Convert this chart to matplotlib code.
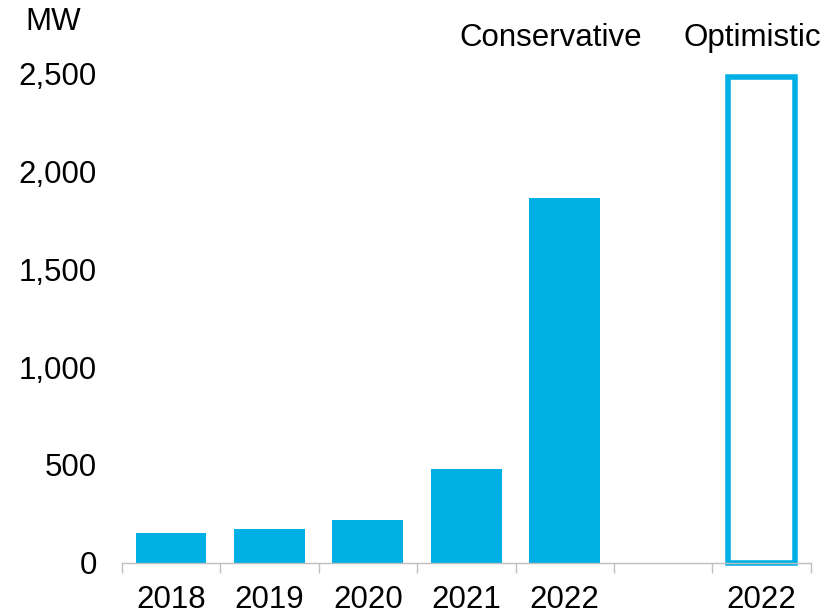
import matplotlib
matplotlib.use("Agg")
import matplotlib.pyplot as plt
import numpy as np

# %% Data
categories = ["2018", "2019", "2020", "2021", "2022", "", "2022"]
conservative = [153, 173, 219, 480, 1860]
optimistic = 2480
yticks = [0, 500, 1000, 1500, 2000, 2500]

BLUE = "#00B0E5"
GREY = "#BFBFBF"
FS = 22.5

plt.rcParams["font.family"] = ["Liberation Sans", "DejaVu Sans"]

# %% Figure
fig = plt.figure(figsize=(8.29, 6.15), dpi=100)
ax = fig.add_axes([0.147, 0.0846, 0.831, 0.7966])

x = np.arange(len(categories))
ax.bar(x[:len(conservative)], conservative, width=0.72, color=BLUE)
ax.bar(x[-1], optimistic, width=0.68, facecolor="white", edgecolor=BLUE,
       linewidth=4, clip_on=False)

ax.set_xlim(-0.5, len(categories) - 0.5)
ax.set_ylim(0, 2500)

for s in ["left", "right", "top"]:
    ax.spines[s].set_visible(False)
ax.spines["bottom"].set_color(GREY)
ax.spines["bottom"].set_linewidth(1.0)

ax.set_xticks(x)
ax.set_xticklabels(categories, fontsize=FS)
ax.set_xticks(np.arange(len(categories) + 1) - 0.5, minor=True)
ax.tick_params(axis="x", which="major", length=0, pad=16)
ax.tick_params(axis="x", which="minor", length=7.5, color=GREY, width=1.0)

ax.set_yticks(yticks)
ax.set_yticklabels([f"{v:,}" for v in yticks], fontsize=FS)
ax.tick_params(axis="y", length=0, pad=18)

fig.text(0.064, 0.965, "MW", fontsize=FS, ha="center", va="center")
fig.text(0.664, 0.938, "Conservative", fontsize=FS, ha="center", va="center")
fig.text(0.908, 0.938, "Optimistic", fontsize=FS, ha="center", va="center")

fig.savefig("out.png", dpi=100)
